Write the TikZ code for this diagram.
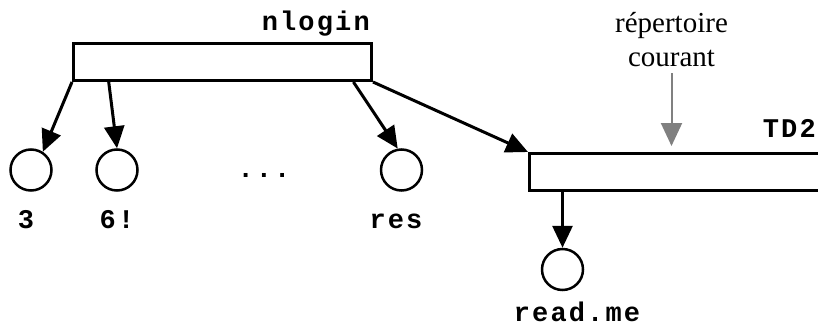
\documentclass[tikz,border=0pt]{standalone}
\usepackage{fontspec}
\setmainfont{Liberation Serif}
\newfontfamily\codefont[LetterSpace=8]{Liberation Mono}
\usetikzlibrary{arrows.meta,calc}

\tikzset{
  dir/.style={draw,line width=3pt,minimum height=37pt,inner sep=0pt},
  fic/.style={draw,circle,line width=2.5pt,minimum size=41pt,inner sep=0pt},
  nom/.style={font=\fontsize{27}{30}\selectfont\codefont\bfseries,inner sep=0pt},
  lien/.style={line width=3pt,-{Triangle[length=22pt,width=20pt]}},
}

\begin{document}
\begin{tikzpicture}[x=1pt,y=-1pt]
                \useasboundingbox (0,0) rectangle (818,326);
                \clip (0,0) rectangle (818,326);
                % directories
                \node[dir,minimum width=298pt] (nlogin) at (222.5,62) {};
                \node[dir,minimum width=400pt] (td) at (729.5,172) {};
                \node[nom,anchor=base east] (nloginlbl) at (370,31) {nlogin};
                \node[nom,anchor=base east] (tdlbl) at (816,137) {TD2};
                % files
                \node[fic] (c3) at (31,170) {};
                \node[fic] (c6) at (117,170) {};
                \node[fic] (cres) at (401.5,170) {};
                \node[fic] (cread) at (562.5,269.5) {};
                \node[nom,anchor=base] (l3) at (26,228) {3};
                \node[nom,anchor=base] (l6) at (117,228) {6!};
                \node[nom,anchor=base] (lres) at (396,228) {res};
                \node[nom,anchor=base] (lread) at (577,321) {read.me};
                \node[nom,anchor=base] (dots) at (264,177) {...};
                % links
                \draw[lien] (nlogin.south west) -- (c3.57);
                \draw[lien] ($(nlogin.south west)!0.122!(nlogin.south east)$) -- (c6.north);
                \draw[lien] ($(nlogin.south west)!0.935!(nlogin.south east)$) -- (cres.100);
                \draw[lien] (nlogin.south east) -- (td.north west);
                \draw[lien] (td.south west -| cread) -- (cread.north);
                % current directory
                \node[align=center,font=\fontsize{29}{34}\selectfont,inner sep=0pt] (rep) at (671.5,40) {répertoire\\courant};
                \draw[line width=2pt,gray,-{Triangle[length=23pt,width=21pt]},shorten <=6pt,shorten >=6pt] (rep.south) -- (rep.south |- td.north);
            \end{tikzpicture}
\end{document}
